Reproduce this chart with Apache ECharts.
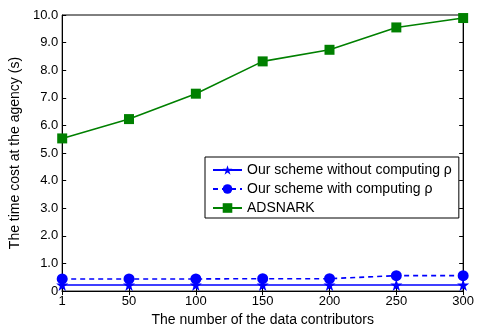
<!DOCTYPE html>
<html>
<head>
<meta charset="utf-8">
<script src="https://cdn.jsdelivr.net/npm/echarts@6/dist/echarts.min.js"></script>
<style>html,body{margin:0;padding:0;background:#fff}#c{width:477px;height:332px}</style>
</head>
<body>
<div id="c"></div>
<script>
var categories = ['1', '50', '100', '150', '200', '250', '300'];
var withoutRho = [0.22, 0.22, 0.22, 0.22, 0.22, 0.22, 0.22];
var withRho = [0.44, 0.44, 0.44, 0.45, 0.45, 0.56, 0.56];
var adsnark = [5.53, 6.23, 7.15, 8.32, 8.74, 9.55, 9.89];
var yTicks = [0, 1, 2, 3, 4, 5, 6, 7, 8, 9, 10];

var star = 'path://M50,0 L61.8,35.5 L99,35.5 L69,57.5 L80.5,93 L50,71 L19.5,93 L31,57.5 L1,35.5 L38.2,35.5 Z';
var font = 'Liberation Sans, Arial, sans-serif';
var chart = echarts.init(document.getElementById('c'));
chart.setOption({
  animation: false,
  textStyle: {fontFamily: font},
  grid: {left: 62, right: 12, top: 15, bottom: 36, show: true, borderColor: '#000', borderWidth: 1, backgroundColor: 'transparent'},
  legend: {
    orient: 'vertical', left: 205, top: 157,
    backgroundColor: '#fff', borderColor: '#000', borderWidth: 1,
    padding: [5, 7, 2, 7], itemGap: 3, itemWidth: 29, itemHeight: 12,
    textStyle: {fontSize: 14, lineHeight: 16, color: '#000', fontFamily: font},
    data: ['Our scheme without computing ρ', 'Our scheme with computing ρ', 'ADSNARK']
  },
  xAxis: [{
    type: 'category', data: categories, boundaryGap: false,
    name: 'The number of the data contributors', nameLocation: 'middle', nameGap: 19,
    nameTextStyle: {fontSize: 14, color: '#000', fontFamily: font},
    axisLine: {lineStyle: {color: '#000', width: 1}},
    axisTick: {inside: true, length: 4, lineStyle: {color: '#000'}},
    axisLabel: {fontSize: 13, color: '#000', margin: 4, fontFamily: font},
    splitLine: {show: false}
  }, {
    type: 'category', data: categories, boundaryGap: false, position: 'top',
    axisLine: {lineStyle: {color: '#000'}},
    axisTick: {inside: true, length: 4, lineStyle: {color: '#000'}},
    axisLabel: {show: false}
  }],
  yAxis: [{
    type: 'value', min: 0, max: 10, interval: 1,
    name: 'The time cost at the agency (s)', nameLocation: 'middle', nameGap: 32,
    nameTextStyle: {fontSize: 14, color: '#000', fontFamily: font},
    axisLine: {show: true, lineStyle: {color: '#000'}},
    axisTick: {show: true, inside: true, length: 4, lineStyle: {color: '#000'}},
    axisLabel: {fontSize: 13, color: '#000', margin: 4, fontFamily: font,
      formatter: function (v) { return v === 0 ? '0' : v.toFixed(1); }},
    splitLine: {show: false}
  }, {
    type: 'value', min: 0, max: 10, interval: 1, position: 'right',
    axisLine: {show: true, lineStyle: {color: '#000'}},
    axisTick: {show: true, inside: true, length: 4, lineStyle: {color: '#000'}},
    axisLabel: {show: false}, splitLine: {show: false}
  }],
  series: [{
    name: 'Our scheme without computing ρ', type: 'line', data: withoutRho,
    symbol: star, symbolSize: 12, color: '#0000ff',
    lineStyle: {color: '#0000ff', width: 1.6}, itemStyle: {color: '#0000ff'}, z: 3
  }, {
    name: 'Our scheme with computing ρ', type: 'line', data: withRho,
    symbol: 'circle', symbolSize: 11, color: '#0000ff',
    lineStyle: {color: '#0000ff', width: 1.6, type: [5, 4]}, itemStyle: {color: '#0000ff'}, z: 4
  }, {
    name: 'ADSNARK', type: 'line', data: adsnark,
    symbol: 'rect', symbolSize: 10, color: '#008000',
    lineStyle: {color: '#008000', width: 1.6}, itemStyle: {color: '#008000'}, z: 2
  }]
});
</script>
</body>
</html>
